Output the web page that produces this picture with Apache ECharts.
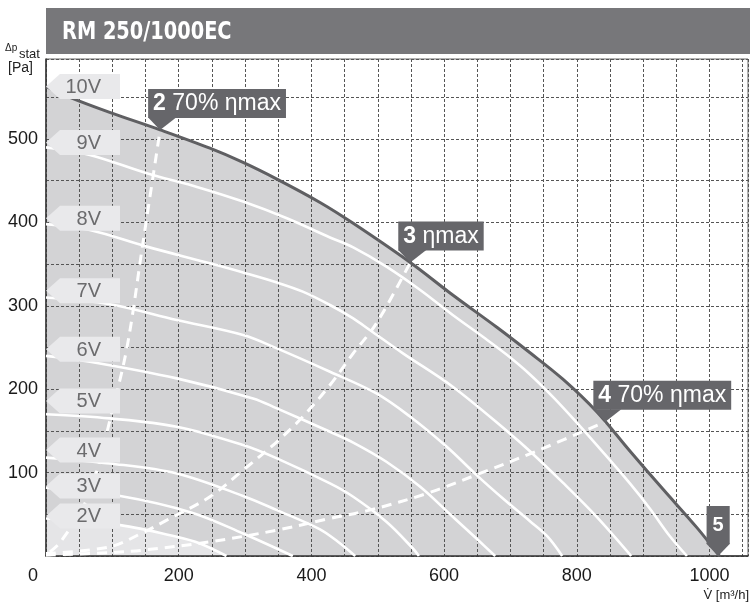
<!DOCTYPE html>
<html>
<head>
<meta charset="utf-8">
<title>RM 250/1000EC</title>
<script src="https://cdn.jsdelivr.net/npm/echarts@6/dist/echarts.min.js"></script>
<style>
  html, body { margin: 0; padding: 0; background: #fff; }
  #mainChart { width: 750px; height: 604px; }
</style>
</head>
<body>
<div id="mainChart"></div>
<script>
// curves: [V m3/h, dp Pa]
var curve10V = [[0,563],[36,550],[96,532],[172,511],[247,489],[297,472],[348,452],[413,424],[463,399],[549,352],[613,313],[680,274],[729,244],[779,212],[830,173],[880,126],[930,80],[981,34],[1015,0]];
var curve9V = [[0,490],[66,481],[152,459],[230,442],[297,425],[363,405],[428,382],[463,370],[513,347],[564,319],[613,289],[660,262],[695,241],[729,218],[765,190],[800,160],[840,124],[880,87],[910,57],[940,24],[966,0]];
var curve8V = [[0,398],[66,391],[152,371],[247,351],[297,340],[348,328],[387,317],[428,301],[463,285],[488,271],[538,243],[613,203],[699,147],[729,126],[779,88],[830,47],[882,0]];
var curve7V = [[0,310],[96,302],[197,283],[297,265],[348,249],[428,221],[498,195],[549,167],[604,131],[649,97],[690,68],[729,42],[755,24],[778,0]];
var curve6V = [[0,240],[66,233],[197,213],[312,189],[348,177],[428,149],[463,136],[513,113],[564,83],[613,47],[650,20],[677,0]];
var curve5V = [[0,170],[96,165],[197,155],[297,133],[348,117],[428,87],[463,71],[513,41],[553,9],[562,0]];
var curve4V = [[0,118],[96,111],[197,99],[297,72],[348,55],[413,32],[440,17],[466,0]];
var curve3V = [[0,82],[112,72],[220,52],[297,27],[372,0]];
var curve2V = [[0,45],[112,37],[197,23],[232,15],[272,0]];

// efficiency lines
var eta70Left = [[6,5],[21,16],[56,59],[77,103],[96,162],[122,250],[146,375],[172,511]];
var etaMax = [[0,3],[96,11],[146,28],[182,43],[247,71],[297,103],[348,137],[387,167],[428,205],[463,243],[498,279],[549,352]];
var eta70Right = [[0,1],[96,4],[146,7],[247,17],[348,31],[428,45],[488,55],[574,75],[654,99],[740,126],[843,161]];

var tagNames = ['10V','9V','8V','7V','6V','5V','4V','3V','2V'];
var tagPa = [563,496,405,318,248,186,127,84,48];

var calloutNum = ['2','3','4','5'];
var calloutText = [' 70% ηmax',' ηmax',' 70% ηmax',''];
var calloutAt = [[172,511],[549,352],[843,161],[1013,0]];

var xTicks = [200,400,600,800,1000];
var yTicks = [100,200,300,400,500];

var FONT = 'Liberation Sans';

function whiteLine(data) {
  return {
    type: 'line', data: data, showSymbol: false, smooth: 0.35,
    silent: true, z: 3,
    lineStyle: { color: '#fff', width: 2.6 }
  };
}

function dashLine(data) {
  return {
    type: 'line', data: data, showSymbol: false, smooth: 0.35,
    silent: true, z: 3,
    lineStyle: { color: '#fff', width: 3, type: [10, 7] }
  };
}

function renderTag(params, api) {
  var pt = api.coord([0, api.value(1)]);
  var x = pt[0], y = pt[1], h = 12.5;
  return {
    type: 'group',
    children: [
      { type: 'polygon', shape: { points: [[x, y], [x + 14, y - h], [x + 74, y - h], [x + 74, y + h], [x + 14, y + h]] },
        style: { fill: '#e9e9eb' } },
      { type: 'text', style: { text: tagNames[params.dataIndex], x: x + 55, y: y + 1, align: 'right', verticalAlign: 'middle',
        fill: '#6b6b6d', fontSize: 20, fontFamily: FONT } }
    ]
  };
}

function renderCallout(params, api) {
  var i = params.dataIndex;
  var tip = api.coord([api.value(0), api.value(1)]);
  var by = tip[1] - 13;
  var single = calloutText[i] === '';
  var tri, txt;
  if (single) {
    tri = [[tip[0] - 12, by + 0.5], tip, [tip[0] + 12, by + 0.5]];
    txt = { text: '{b|' + calloutNum[i] + '}', x: tip[0], y: by + 1, align: 'center', verticalAlign: 'bottom',
      padding: [9, 6, 9, 6], lineHeight: 20 };
  } else {
    tri = [[tip[0] - 12, by + 0.5], tip, [tip[0] + 16, by + 0.5]];
    txt = { text: '{b|' + calloutNum[i] + '}' + calloutText[i], x: tip[0] - 12, y: by + 1, align: 'left', verticalAlign: 'bottom',
      padding: [3, 5, 2, 5], lineHeight: 24 };
  }
  txt.backgroundColor = '#66666a';
  txt.fill = '#fff';
  txt.fontSize = single ? 20 : 23;
  txt.fontFamily = FONT;
  txt.rich = { b: { fontWeight: 'bold', fontSize: single ? 20 : 23, fontFamily: FONT, fill: '#fff', lineHeight: single ? 20 : 24 } };
  return {
    type: 'group',
    children: [
      { type: 'polygon', shape: { points: tri }, style: { fill: '#66666a' } },
      { type: 'text', style: txt }
    ]
  };
}

var myChart = echarts.init(document.getElementById('mainChart'));

var option = {
  animation: false,
  backgroundColor: '#fff',
  grid: { left: 46, top: 59, right: 2, bottom: 48, show: true, borderColor: '#666', borderWidth: 1 },
  xAxis: {
    type: 'value', min: 0, max: 1058, interval: 50, z: 2,
    axisLine: { show: true, lineStyle: { color: '#333', width: 1.5 } },
    axisTick: { show: false },
    splitLine: { show: true, lineStyle: { color: '#555', width: 1, type: [3, 2] } },
    axisLabel: {
      margin: 11, color: '#1a1a1a', fontSize: 18, fontFamily: FONT, showMaxLabel: false,
      formatter: function (v) { return xTicks.indexOf(v) >= 0 ? String(v) : ''; }
    }
  },
  yAxis: {
    type: 'value', min: 0, max: 596, interval: 50, z: 2,
    axisLine: { show: true, lineStyle: { color: '#333', width: 1.5 } },
    axisTick: { show: false },
    splitLine: { show: true, lineStyle: { color: '#555', width: 1, type: [3, 2] } },
    axisLabel: {
      margin: 8, color: '#1a1a1a', fontSize: 18, fontFamily: FONT, showMaxLabel: false,
      formatter: function (v) { return yTicks.indexOf(v) >= 0 ? String(v) : ''; }
    }
  },
  graphic: [
    { type: 'rect', shape: { x: 46, y: 8, width: 704, height: 46 }, style: { fill: '#77777a' } },
    { type: 'text', x: 62, y: 32, scaleX: 0.86,
      style: { text: 'RM 250/1000EC', fill: '#fff', font: 'bold 25px "DejaVu Sans Condensed"', verticalAlign: 'middle' } },
    { type: 'text', x: 5, y: 48, style: { text: 'Δp', fill: '#222', fontSize: 10, fontFamily: FONT, verticalAlign: 'middle' } },
    { type: 'text', x: 19, y: 54, style: { text: 'stat', fill: '#222', fontSize: 13, fontFamily: FONT, verticalAlign: 'middle' } },
    { type: 'text', x: 8, y: 68, style: { text: '[Pa]', fill: '#222', fontSize: 14, fontFamily: FONT, verticalAlign: 'middle' } },
    { type: 'text', x: 33, y: 576, style: { text: '0', fill: '#1a1a1a', fontSize: 18, fontFamily: FONT, align: 'center', verticalAlign: 'middle' } },
    { type: 'text', x: 749, y: 595, style: { text: 'V̇ [m³/h]', fill: '#222', fontSize: 13, fontFamily: FONT, align: 'right', verticalAlign: 'middle' } }
  ],
  series: [
    { type: 'line', data: curve10V, showSymbol: false, smooth: 0.35, silent: true, z: 1,
      lineStyle: { width: 0 }, areaStyle: { color: '#d3d3d5', opacity: 1 } },
    { type: 'line', data: curve2V, showSymbol: false, smooth: 0.35, silent: true, z: 1,
      lineStyle: { width: 0 }, areaStyle: { color: '#e5e5e7', opacity: 1 } },
    dashLine(eta70Left),
    dashLine(etaMax),
    dashLine(eta70Right),
    whiteLine(curve9V),
    whiteLine(curve8V),
    whiteLine(curve7V),
    whiteLine(curve6V),
    whiteLine(curve5V),
    whiteLine(curve4V),
    whiteLine(curve3V),
    whiteLine(curve2V),
    { type: 'line', data: curve10V, showSymbol: false, smooth: 0.35, silent: true, z: 4,
      lineStyle: { color: '#5f5f62', width: 3 } },
    { type: 'custom', renderItem: renderTag, data: tagPa.map(function (p) { return [0, p]; }), silent: true, z: 5 },
    { type: 'custom', renderItem: renderCallout, data: calloutAt, silent: true, z: 6 }
  ]
};

myChart.setOption(option);
</script>
</body>
</html>
